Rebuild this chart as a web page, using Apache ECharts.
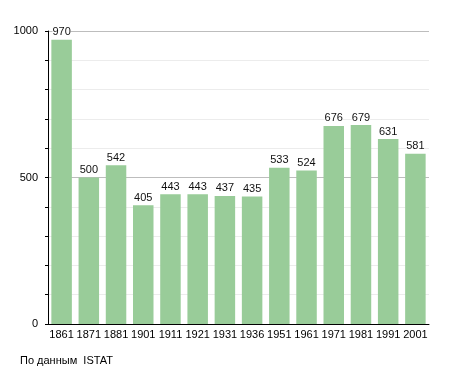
<!DOCTYPE html>
<html><head><meta charset="utf-8">
<script src="https://cdn.jsdelivr.net/npm/echarts@6/dist/echarts.min.js"></script>
<style>html,body{margin:0;padding:0;background:#fff}#c{width:455px;height:373px}</style>
</head><body><div id="c"></div>
<script>
var years = ['1861','1871','1881','1901','1911','1921','1931','1936','1951','1961','1971','1981','1991','2001'];
var population = [970,500,542,405,443,443,437,435,533,524,676,679,631,581];
var yTickLabels = [0, 500, 1000];
var sourceText = 'По данным  ISTAT';

var font = "'Liberation Sans', Arial, sans-serif";
var chart = echarts.init(document.getElementById('c'), null, {renderer:'canvas'});
chart.setOption({
  animation:false,
  backgroundColor:'#fff',
  grid:{left:48, right:26, top:31, bottom:49, containLabel:false},
  xAxis:{
    type:'category', data:years,
    axisLine:{lineStyle:{color:'#000', width:1}},
    axisTick:{show:false},
    axisLabel:{color:'#000', fontSize:11, fontFamily:font, margin:5, interval:0},
    splitLine:{show:false}
  },
  yAxis:{
    type:'value', min:0, max:1000, interval:100,
    axisLine:{show:true, lineStyle:{color:'#000', width:1}},
    axisTick:{show:true, length:3, lineStyle:{color:'#000'}},
    axisLabel:{color:'#000', fontSize:11, fontFamily:font, margin:10,
      formatter:function(v){ return yTickLabels.indexOf(v) >= 0 ? String(v) : ''; }},
    splitLine:{show:true, lineStyle:{color:['#bdbdbd','#ececec','#ececec','#ececec','#ececec'], width:1}}
  },
  series:[{
    type:'bar', data:population, barWidth:20.5,
    itemStyle:{color:'#99cc99'},
    label:{show:true, position:'top', distance:2, color:'#111', fontSize:11, fontFamily:font,
      backgroundColor:'#fff', padding:[0,0,0,0]}
  }],
  graphic:[{type:'text', left:20, top:355, style:{text:sourceText, fill:'#000', fontSize:11, fontFamily:font}}]
});
</script></body></html>
